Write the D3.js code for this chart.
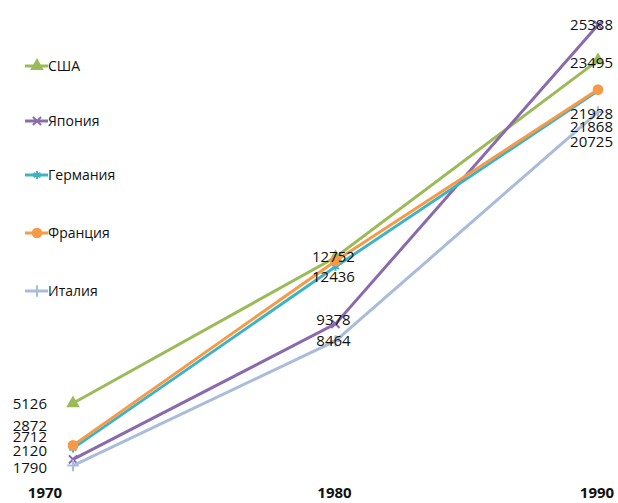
<!DOCTYPE html>
<html>
<head>
<meta charset="utf-8">
<script src="https://cdn.jsdelivr.net/npm/d3@7"></script>
<style>
  body { margin: 0; background: #fff; }
  text { font-family: "Open Sans", sans-serif; fill: #111; }
</style>
</head>
<body>
<div id="vis"></div>
<script>
// Data
var years = ["1970", "1980", "1990"];
var countries = ["США", "Япония", "Германия", "Франция", "Италия"];
var usa     = [5126, 12950, 23495];
var japan   = [2120, 9378, 25388];
var germany = [2712, 12436, 21868];
var france  = [2872, 12752, 21928];
var italy   = [1790, 8464, 20725];
var seriesValues = [usa, japan, germany, france, italy];
var colors = ["#9bbb59", "#8a6aac", "#3fb3c6", "#f79a48", "#a9bcdb"];

// label nudges (dy) per series and year; null = no label
var labelDy = [
    [0, null, 2],
    [-9, -4, 0],
    [-12, 10, 36],
    [-20, -4, 24],
    [2, 0, 30]
];

var width = 618, height = 503;

var svg = d3.select("#vis").append("svg")
    .attr("width", width)
    .attr("height", height);

var x = d3.scalePoint().domain(years).range([73, 598]);
var y = d3.scaleLinear().domain([0, 25388]).range([499, 25]);

var line = d3.line()
    .x(function(d, i) { return x(years[i]); })
    .y(function(d) { return y(d); });

var symbols = [d3.symbolTriangle, d3.symbolTimes, d3.symbolAsterisk, d3.symbolCircle, d3.symbolPlus];

// lines
for (var s = 0; s < seriesValues.length; s++) {
    svg.append("path")
        .datum(seriesValues[s])
        .attr("fill", "none")
        .attr("stroke", colors[s])
        .attr("stroke-width", 3)
        .attr("d", line);

    svg.selectAll(".m" + s)
        .data(seriesValues[s])
        .enter().append("path")
        .attr("transform", function(d, i) { return "translate(" + x(years[i]) + "," + y(d) + ")"; })
        .attr("d", d3.symbol().type(symbols[s]).size(s == 3 ? 60 : 45))
        .attr("fill", s == 1 || s == 2 || s == 4 ? "none" : colors[s])
        .attr("stroke", colors[s])
        .attr("stroke-width", 2);
}

// value labels
for (var s = 0; s < seriesValues.length; s++) {
    seriesValues[s].forEach(function(v, i) {
        var dy = labelDy[s][i];
        if (dy === null) return;
        var lx, anchor;
        if (i == 0) { lx = x(years[i]) - 26; anchor = "end"; }
        else if (i == 1) { lx = x(years[i]) - 2; anchor = "middle"; }
        else { lx = x(years[i]) + 15; anchor = "end"; }
        svg.append("text")
            .attr("x", lx)
            .attr("y", y(v) + dy)
            .attr("dy", "0.35em")
            .attr("text-anchor", anchor)
            .style("font-size", "15px")
            .text(v);
    });
}

// x axis labels
svg.selectAll(".year")
    .data(years)
    .enter().append("text")
    .attr("x", function(d, i) { return x(d) + (i == 0 ? -28 : -1); })
    .attr("y", 493)
    .attr("dy", "0.35em")
    .attr("text-anchor", "middle")
    .style("font-size", "15px")
    .style("font-weight", "bold")
    .text(function(d) { return d; });

// legend
var legendY = [66, 121, 175, 233, 291];
var legend = svg.selectAll(".legend")
    .data(countries)
    .enter().append("g")
    .attr("transform", function(d, i) { return "translate(25," + legendY[i] + ")"; });

legend.append("line")
    .attr("x1", 0).attr("x2", 23)
    .attr("stroke", function(d, i) { return colors[i]; })
    .attr("stroke-width", 3);

legend.append("path")
    .attr("transform", "translate(12,0)")
    .attr("d", function(d, i) { return d3.symbol().type(symbols[i]).size(i == 3 ? 60 : 45)(); })
    .attr("fill", function(d, i) { return i == 1 || i == 2 || i == 4 ? "none" : colors[i]; })
    .attr("stroke", function(d, i) { return colors[i]; })
    .attr("stroke-width", 2);

legend.append("text")
    .attr("x", 23)
    .attr("dy", "0.35em")
    .style("font-size", "14px")
    .text(function(d) { return d; });
</script>
</body>
</html>
